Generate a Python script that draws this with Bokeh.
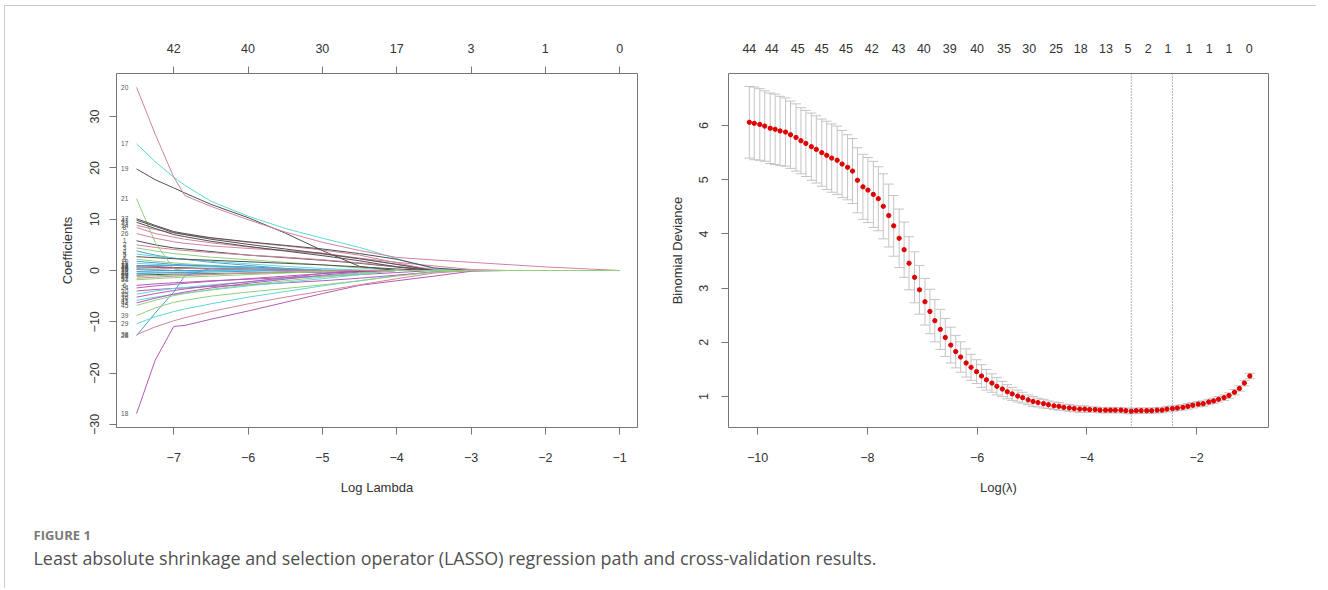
import math
from bokeh.plotting import figure
from bokeh.models import Range1d, LinearAxis, FixedTicker, ColumnDataSource, Span
from bokeh.layouts import row, column
from bokeh.core.properties import value
from bokeh.embed import file_html
from bokeh.resources import INLINE

# ------------------------------------------------------------------
# Left panel: LASSO coefficient paths (values read at log-lambda knots)
# ------------------------------------------------------------------
LOG_LAMBDA_KNOTS = [-7.5, -7.25, -7.0, -6.85, -6.5, -6.0, -5.5, -5.0, -4.5, -4.0, -3.5, -3.0, -2.5, -2.0, -1.0]
PATH_X_TICKS = [-7, -6, -5, -4, -3, -2, -1]
PATH_TOP_LABELS = ["42", "40", "30", "17", "3", "1", "0"]
PATH_Y_TICKS = [-30, -20, -10, 0, 10, 20, 30]

coef_v1 = [5.8, 5.0, 4.4, 4.2, 3.7, 3.0, 2.5, 2.0, 1.4, 0.7, 0, 0, 0, 0, 0]
coef_v2 = [5.0, 4.5, 4.1, 3.9, 3.5, 3.0, 2.6, 2.1, 1.5, 0.8, 0.1, 0, 0, 0, 0]
coef_v3 = [4.4, 3.8, 3.3, 3.1, 2.6, 2.1, 1.6, 1.1, 0.5, 0, 0, 0, 0, 0, 0]
coef_v4 = [3.8, 3.0, 2.4, 2.2, 1.6, 1.0, 0.4, 0, 0, 0, 0, 0, 0, 0, 0]
coef_v5 = [3.2, 2.8, 2.4, 2.2, 1.8, 1.3, 0.8, 0.4, 0.1, 0, 0, 0, 0, 0, 0]
coef_v6 = [-2.9, -2.6, -2.4, -2.3, -2.0, -1.7, -1.4, -1.1, -0.8, -0.4, 0, 0, 0, 0, 0]
coef_v7 = [2.7, 2.5, 2.3, 2.2, 2.0, 1.7, 1.4, 1.1, 0.7, 0.3, 0, 0, 0, 0, 0]
coef_v8 = [8.4, 7.2, 6.5, 6.1, 5.4, 4.6, 3.9, 3.2, 2.3, 1.2, 0.2, 0, 0, 0, 0]
coef_v9 = [2.2, 1.8, 1.5, 1.3, 1.0, 0.6, 0.3, 0, 0, 0, 0, 0, 0, 0, 0]
coef_v10 = [1.8, 1.5, 1.2, 1.1, 0.8, 0.5, 0.2, 0, 0, 0, 0, 0, 0, 0, 0]
coef_v11 = [1.4, 1.2, 1.0, 0.9, 0.7, 0.4, 0.1, 0, 0, 0, 0, 0, 0, 0, 0]
coef_v12 = [1.0, 0.8, 0.6, 0.5, 0.3, 0.1, 0, 0, 0, 0, 0, 0, 0, 0, 0]
coef_v13 = [0.7, 0.6, 0.5, 0.5, 0.4, 0.25, 0.1, 0, 0, 0, 0, 0, 0, 0, 0]
coef_v14 = [8.8, 8.0, 7.3, 7.0, 6.3, 5.5, 4.8, 4.0, 3.0, 1.5, 0, 0, 0, 0, 0]
coef_v15 = [0.4, 0.2, 0, 0, 0, 0, 0, 0, 0, 0, 0, 0, 0, 0, 0]
coef_v16 = [0.2, 0.05, 0, 0, 0, 0, 0, 0, 0, 0, 0, 0, 0, 0, 0]
coef_v17 = [24.7, 21.2, 18.2, 16.6, 13.5, 10.6, 8.2, 6.3, 4.5, 2.3, 0.35, 0, 0, 0, 0]
coef_v18 = [-27.9, -17.5, -10.9, -10.7, -9.5, -7.9, -6.2, -4.5, -2.9, -2.0, -1.1, -0.15, 0, 0, 0]
coef_v19 = [19.8, 17.7, 16.1, 15.1, 12.9, 10.3, 7.3, 3.9, 0.8, 0, 0, 0, 0, 0, 0]
coef_v20 = [35.7, 26.6, 18.2, 14.6, 12.5, 9.9, 7.5, 5.5, 3.9, 2.55, 2.05, 1.6, 1.15, 0.7, 0]
coef_v21 = [14.0, 5.5, 0.3, 0, 0, 0, 0, 0, 0, 0, 0, 0, 0, 0, 0]
coef_v22 = [-0.2, -0.1, 0, 0, 0, 0, 0, 0, 0, 0, 0, 0, 0, 0, 0]
coef_v23 = [-0.5, -0.4, -0.3, -0.25, -0.1, 0, 0, 0, 0, 0, 0, 0, 0, 0, 0]
coef_v24 = [-3.4, -3.0, -2.7, -2.5, -2.1, -1.6, -1.1, -0.6, -0.2, 0, 0, 0, 0, 0, 0]
coef_v25 = [-0.9, -0.8, -0.7, -0.7, -0.6, -0.5, -0.4, -0.3, -0.2, 0, 0, 0, 0, 0, 0]
coef_v26 = [7.2, 6.3, 5.6, 5.3, 4.8, 4.3, 3.9, 3.4, 2.4, 1.6, 0.9, 0.2, 0, 0, 0]
coef_v27 = [-1.2, -1.0, -0.9, -0.85, -0.7, -0.5, -0.3, -0.1, 0, 0, 0, 0, 0, 0, 0]
coef_v28 = [-12.7, -8.3, -4.2, -1.0, 0.4, 0.2, 0, 0, 0, 0, 0, 0, 0, 0, 0]
coef_v29 = [-10.4, -9.0, -8.0, -7.5, -6.5, -5.2, -4.1, -3.0, -2.0, -1.0, -0.2, 0, 0, 0, 0]
coef_v30 = [-4.0, -3.7, -3.5, -3.4, -3.1, -2.8, -2.4, -2.0, -1.5, -0.9, -0.3, 0, 0, 0, 0]
coef_v31 = [9.4, 8.2, 7.0, 6.6, 5.7, 4.7, 3.8, 2.9, 1.9, 0.7, 0, 0, 0, 0, 0]
coef_v32 = [-1.5, -1.3, -1.1, -1.0, -0.8, -0.5, -0.2, 0, 0, 0, 0, 0, 0, 0, 0]
coef_v33 = [-1.8, -1.6, -1.4, -1.3, -1.1, -0.8, -0.5, -0.2, 0, 0, 0, 0, 0, 0, 0]
coef_v34 = [0.9, 1.0, 1.0, 1.0, 0.9, 0.7, 0.4, 0.1, 0, 0, 0, 0, 0, 0, 0]
coef_v35 = [-4.6, -4.0, -3.5, -3.3, -2.8, -2.2, -1.6, -1.1, -0.5, 0, 0, 0, 0, 0, 0]
coef_v36 = [-5.2, -4.5, -3.9, -3.6, -3.0, -2.2, -1.4, -0.6, 0, 0, 0, 0, 0, 0, 0]
coef_v37 = [10.1, 8.8, 7.6, 7.2, 6.4, 5.6, 4.9, 4.2, 3.3, 2.2, 0.5, 0, 0, 0, 0]
coef_v38 = [-12.5, -11.0, -9.8, -9.2, -8.0, -6.5, -5.2, -4.0, -2.8, -1.6, -0.5, 0, 0, 0, 0]
coef_v39 = [-8.8, -7.3, -6.2, -5.8, -5.0, -4.2, -3.5, -2.8, -2.0, -1.1, -0.3, 0, 0, 0, 0]
coef_v40 = [-0.6, -0.5, -0.4, -0.4, -0.3, -0.15, 0, 0, 0, 0, 0, 0, 0, 0, 0]
coef_v41 = [-5.8, -5.2, -4.7, -4.4, -3.8, -3.0, -2.3, -1.6, -0.8, 0, 0, 0, 0, 0, 0]
coef_v42 = [-6.3, -5.4, -4.6, -4.2, -3.4, -2.5, -1.7, -0.9, -0.3, 0, 0, 0, 0, 0, 0]
coef_v43 = [9.8, 8.6, 7.4, 7.0, 6.1, 5.1, 4.2, 3.3, 2.3, 1.2, 0, 0, 0, 0, 0]
coef_v44 = [0.5, 0.5, 0.4, 0.4, 0.3, 0.2, 0.1, 0, 0, 0, 0, 0, 0, 0, 0]
coef_v45 = [-6.8, -5.8, -4.9, -4.5, -3.7, -2.8, -2.0, -1.3, -0.6, 0, 0, 0, 0, 0, 0]

COEF_PATHS = [
    coef_v1, coef_v2, coef_v3, coef_v4, coef_v5, coef_v6, coef_v7, coef_v8, coef_v9,
    coef_v10, coef_v11, coef_v12, coef_v13, coef_v14, coef_v15, coef_v16, coef_v17,
    coef_v18, coef_v19, coef_v20, coef_v21, coef_v22, coef_v23, coef_v24, coef_v25,
    coef_v26, coef_v27, coef_v28, coef_v29, coef_v30, coef_v31, coef_v32, coef_v33,
    coef_v34, coef_v35, coef_v36, coef_v37, coef_v38, coef_v39, coef_v40, coef_v41,
    coef_v42, coef_v43, coef_v44, coef_v45,
]
VAR_LABELS = [str(i + 1) for i in range(len(COEF_PATHS))]

# ------------------------------------------------------------------
# Right panel: cross-validation binomial deviance
# ------------------------------------------------------------------
LOG_LAMBDA = [
    -10.15, -10.06, -9.96, -9.87, -9.77, -9.68, -9.59, -9.49, -9.40, -9.30,
    -9.21, -9.12, -9.02, -8.93, -8.83, -8.74, -8.65, -8.55, -8.46, -8.36,
    -8.27, -8.18, -8.08, -7.99, -7.89, -7.80, -7.71, -7.61, -7.52, -7.42,
    -7.33, -7.24, -7.14, -7.05, -6.95, -6.86, -6.77, -6.67, -6.58, -6.48,
    -6.39, -6.30, -6.20, -6.11, -6.01, -5.92, -5.83, -5.73, -5.64, -5.54,
    -5.45, -5.36, -5.26, -5.17, -5.07, -4.98, -4.89, -4.79, -4.70, -4.60,
    -4.51, -4.42, -4.32, -4.23, -4.13, -4.04, -3.95, -3.85, -3.76, -3.66,
    -3.57, -3.48, -3.38, -3.29, -3.19, -3.10, -3.01, -2.91, -2.82, -2.72,
    -2.63, -2.54, -2.44, -2.35, -2.25, -2.16, -2.07, -1.97, -1.88, -1.78,
    -1.69, -1.60, -1.50, -1.41, -1.31, -1.22, -1.13, -1.03,
]
CV_MEAN = [
    6.06, 6.04, 6.02, 5.99, 5.95, 5.93, 5.90, 5.88, 5.83, 5.78,
    5.72, 5.67, 5.61, 5.56, 5.50, 5.45, 5.40, 5.36, 5.29, 5.23,
    5.16, 4.99, 4.87, 4.81, 4.73, 4.65, 4.51, 4.34, 4.15, 3.92,
    3.71, 3.46, 3.20, 2.97, 2.75, 2.57, 2.40, 2.24, 2.09, 1.95,
    1.83, 1.73, 1.62, 1.54, 1.46, 1.38, 1.31, 1.25, 1.19, 1.14,
    1.09, 1.05, 1.01, 0.98, 0.94, 0.91, 0.89, 0.87, 0.85, 0.83,
    0.82, 0.80, 0.79, 0.78, 0.77, 0.77, 0.76, 0.76, 0.75, 0.75,
    0.75, 0.75, 0.75, 0.74, 0.73, 0.74, 0.74, 0.74, 0.74, 0.75,
    0.75, 0.77, 0.78, 0.79, 0.80, 0.82, 0.84, 0.86, 0.87, 0.90,
    0.92, 0.95, 0.98, 1.02, 1.08, 1.15, 1.25, 1.38,
]
CV_SE = [
    0.66, 0.67, 0.66, 0.65, 0.65, 0.65, 0.64, 0.63, 0.62, 0.62,
    0.61, 0.61, 0.62, 0.62, 0.62, 0.63, 0.63, 0.63, 0.62, 0.60,
    0.60, 0.60, 0.60, 0.60, 0.61, 0.59, 0.60, 0.58, 0.56, 0.54,
    0.51, 0.49, 0.47, 0.45, 0.43, 0.41, 0.39, 0.37, 0.35, 0.33,
    0.30, 0.28, 0.26, 0.24, 0.22, 0.21, 0.19, 0.17, 0.16, 0.14,
    0.13, 0.12, 0.11, 0.10, 0.09, 0.09, 0.08, 0.08, 0.07, 0.07,
    0.07, 0.06, 0.06, 0.06, 0.06, 0.06, 0.05, 0.05, 0.05, 0.05,
    0.05, 0.05, 0.05, 0.05, 0.05, 0.05, 0.05, 0.05, 0.05, 0.05,
    0.05, 0.05, 0.05, 0.05, 0.05, 0.05, 0.05, 0.05, 0.05, 0.05,
    0.05, 0.05, 0.05, 0.05, 0.05, 0.05, 0.05, 0.05,
]
LOG_LAMBDA_MIN = -3.19
LOG_LAMBDA_1SE = -2.44
NZERO_POS = [-10.15, -9.74, -9.27, -8.83, -8.39, -7.92, -7.43, -6.97, -6.50, -6.00, -5.51,
             -5.05, -4.56, -4.11, -3.65, -3.25, -2.88, -2.52, -2.14, -1.77, -1.41, -1.04]
NZERO_LABELS = ["44", "44", "45", "45", "45", "42", "43", "40", "39", "40", "35",
                "30", "25", "18", "13", "5", "2", "1", "1", "1", "1", "0"]
DEV_X_TICKS = [-10, -8, -6, -4, -2]
DEV_Y_TICKS = [1, 2, 3, 4, 5, 6]

CAPTION_LABEL = "FIGURE 1"
CAPTION_TEXT = ("Least absolute shrinkage and selection operator (LASSO) regression path "
                "and cross-validation results.")

# ------------------------------------------------------------------
# Styling helpers
# ------------------------------------------------------------------
FONT = "'Liberation Sans Narrow', 'Liberation Sans', Arial, sans-serif"
TEXT_COL = "#333333"
BOX_COL = "#767676"
R_PALETTE = ["#505050", "#d0849e", "#92cf7c", "#4b9fd6", "#5ed8d8", "#b55ab5"]


def style_axis(ax, tick_out=7, label_standoff=12, axis_standoff=18, parallel=False):
    ax.axis_line_color = None
    ax.major_tick_line_color = BOX_COL
    ax.major_tick_out = tick_out
    ax.major_tick_in = 0
    ax.minor_tick_line_color = None
    ax.major_label_text_font = FONT
    ax.major_label_text_font_size = "12.5px"
    ax.major_label_text_color = TEXT_COL
    ax.major_label_standoff = label_standoff
    ax.axis_label_text_font = FONT
    ax.axis_label_text_font_size = "13px"
    ax.axis_label_text_font_style = "normal"
    ax.axis_label_text_color = TEXT_COL
    ax.axis_label_standoff = axis_standoff
    if parallel:
        ax.major_label_orientation = "parallel"


def base_figure(width, x_range, y_range, left, right):
    p = figure(width=width, height=500, x_range=x_range, y_range=y_range,
               output_backend="svg", toolbar_location=None,
               min_border_left=left, min_border_right=right,
               min_border_top=67, min_border_bottom=79)
    p.grid.visible = False
    p.outline_line_color = BOX_COL
    p.outline_line_width = 1
    p.background_fill_color = "white"
    p.border_fill_color = "white"
    return p


# ---------------- Left panel ----------------
p1 = base_figure(660, Range1d(-7.77, -0.76), Range1d(-30.6, 38.4), 111, 28)
p1.xaxis.ticker = FixedTicker(ticks=PATH_X_TICKS, minor_ticks=[])
p1.yaxis.ticker = FixedTicker(ticks=PATH_Y_TICKS, minor_ticks=[])
p1.xaxis.axis_label = "Log Lambda"
p1.yaxis.axis_label = "Coefficients"
for ax in p1.xaxis:
    style_axis(ax, label_standoff=18, axis_standoff=15)
for ax in p1.yaxis:
    style_axis(ax, label_standoff=10, axis_standoff=13, parallel=True)
top1 = LinearAxis(ticker=FixedTicker(ticks=PATH_X_TICKS, minor_ticks=[]),
                  major_label_overrides={t: l for t, l in zip(PATH_X_TICKS, PATH_TOP_LABELS)})
style_axis(top1, label_standoff=14)
p1.add_layout(top1, "above")

for i, path in enumerate(COEF_PATHS):
    p1.line(LOG_LAMBDA_KNOTS, path, line_color=R_PALETTE[i % 6], line_width=1)

label_x = LOG_LAMBDA_KNOTS[0] - 0.16
p1.text(x=[label_x] * len(COEF_PATHS), y=[pth[0] for pth in COEF_PATHS], text=VAR_LABELS,
        text_font=value("Liberation Sans"), text_font_size="6.5px", text_color="#555555",
        text_align="center", text_baseline="middle")

# ---------------- Right panel ----------------
p2 = base_figure(651, Range1d(-10.53, -0.69), Range1d(0.43, 6.96), 63, 48)
p2.xaxis.ticker = FixedTicker(ticks=DEV_X_TICKS, minor_ticks=[])
p2.yaxis.ticker = FixedTicker(ticks=DEV_Y_TICKS, minor_ticks=[])
p2.xaxis.axis_label = "Log(\u03bb)"
p2.yaxis.axis_label = "Binomial Deviance"
for ax in p2.xaxis:
    style_axis(ax, label_standoff=18, axis_standoff=15)
for ax in p2.yaxis:
    style_axis(ax, label_standoff=13, axis_standoff=12, parallel=True)
top2 = LinearAxis(ticker=FixedTicker(ticks=NZERO_POS, minor_ticks=[]),
                  major_label_overrides={t: l for t, l in zip(NZERO_POS, NZERO_LABELS)})
style_axis(top2, tick_out=0, label_standoff=21)
p2.add_layout(top2, "above")

CAP_HALF = 0.091
upper = [m + s for m, s in zip(CV_MEAN, CV_SE)]
lower = [m - s for m, s in zip(CV_MEAN, CV_SE)]
src = ColumnDataSource(dict(
    x=LOG_LAMBDA, mean=CV_MEAN, up=upper, lo=lower,
    xl=[x - CAP_HALF for x in LOG_LAMBDA], xr=[x + CAP_HALF for x in LOG_LAMBDA],
))
bar_col = "#c4c4c4"
p2.segment(x0="x", y0="lo", x1="x", y1="up", source=src, line_color=bar_col, line_width=1)
p2.segment(x0="xl", y0="up", x1="xr", y1="up", source=src, line_color=bar_col, line_width=1)
p2.segment(x0="xl", y0="lo", x1="xr", y1="lo", source=src, line_color=bar_col, line_width=1)
p2.scatter(x="x", y="mean", source=src, size=4.3, fill_color="#e00000", line_color="#e00000")

for loc in (LOG_LAMBDA_MIN, LOG_LAMBDA_1SE):
    p2.add_layout(Span(location=loc, dimension="height", line_color="#6a6a6a",
                       line_width=1, line_dash="1 2"))

# ---------------- Caption ----------------
p3 = figure(width=1311, height=82, x_range=Range1d(0, 1311), y_range=Range1d(82, 0),
            output_backend="svg", toolbar_location=None,
            x_axis_type=None, y_axis_type=None, min_border=0)
p3.grid.visible = False
p3.outline_line_color = None
p3.text(x=[28], y=[28], text=[CAPTION_LABEL], text_font=value("Open Sans"),
        text_font_size="13px", text_font_style="bold", text_color="#7a7a7a",
        text_align="left", text_baseline="middle")
p3.text(x=[28], y=[51], text=[CAPTION_TEXT], text_font=value("Open Sans"),
        text_font_size="17.9px", text_color="#505050",
        text_align="left", text_baseline="middle")

layout = column(row(p1, p2), p3, margin=(5, 0, 0, 4),
                styles={"border-top": "1px solid #cccccc", "border-left": "1px solid #cccccc"})

open("out.html", "w").write(file_html(layout, INLINE))
